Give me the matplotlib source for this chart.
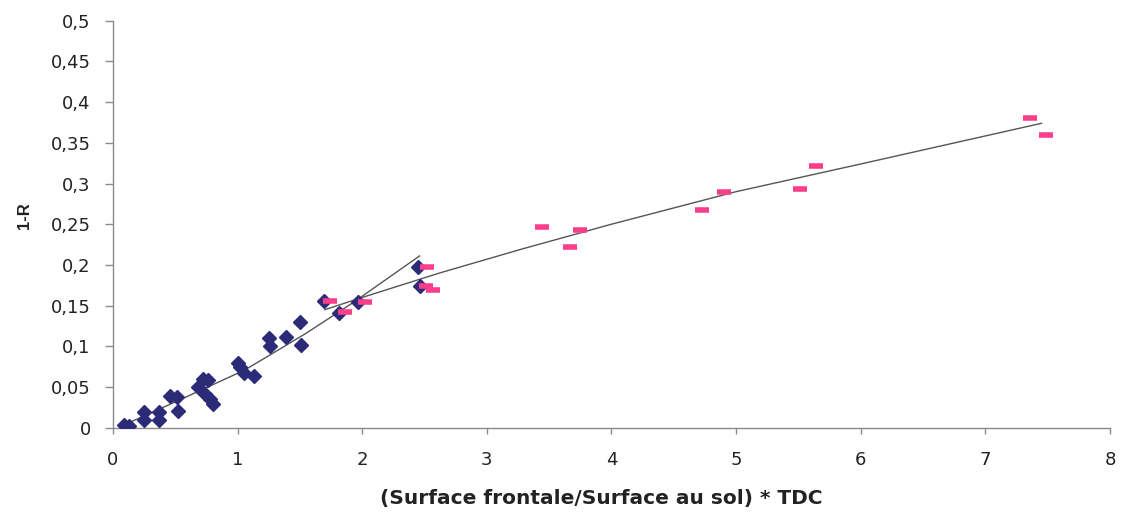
import numpy as np
import matplotlib
matplotlib.use('Agg')
import matplotlib.pyplot as plt
from matplotlib.ticker import FuncFormatter, MultipleLocator

plt.rcParams['font.family'] = ['DejaVu Sans']

# diamonds (navy series)
diam_x = [0.09, 0.13, 0.25, 0.25, 0.37, 0.37, 0.46, 0.51, 0.52, 0.68, 0.72, 0.76,
          0.74, 0.78, 0.80, 1.00, 1.02, 1.05, 1.13, 1.25, 1.26, 1.39, 1.50, 1.51,
          1.69, 1.81, 1.97, 2.45, 2.46]
diam_y = [0.003, 0.002, 0.019, 0.010, 0.019, 0.010, 0.039, 0.038, 0.021, 0.050, 0.060, 0.059,
          0.041, 0.035, 0.029, 0.080, 0.075, 0.067, 0.064, 0.110, 0.100, 0.111, 0.130, 0.102,
          0.156, 0.141, 0.155, 0.198, 0.174]

# dashes (pink series)
pink_x = [1.74, 1.86, 2.02, 2.52, 2.51, 2.57, 3.44, 3.67, 3.75, 4.73, 4.90, 5.51, 5.64, 7.36, 7.49]
pink_y = [0.156, 0.142, 0.154, 0.198, 0.174, 0.169, 0.246, 0.222, 0.243, 0.267, 0.289, 0.293, 0.322, 0.380, 0.360]

# trend lines
trend1_x = [0.07, 0.52, 1.06, 1.55, 1.93, 2.46]
trend1_y = [0.002, 0.033, 0.071, 0.116, 0.154, 0.211]
trend2_x = [1.70, 2.00, 2.62, 3.27, 4.00, 5.00, 6.00, 7.45]
trend2_y = [0.145, 0.160, 0.190, 0.219, 0.250, 0.290, 0.324, 0.374]

fig = plt.figure(figsize=(11.25, 5.19), dpi=100)
ax = fig.add_axes([0.1004, 0.176, 0.8863, 0.784])

ax.plot(trend1_x, trend1_y, color='#555555', lw=1.0, zorder=2)
ax.plot(trend2_x, trend2_y, color='#555555', lw=1.0, zorder=2)
ax.plot(diam_x, diam_y, ls='none', marker='D', ms=7.5, color='#2b2b78', zorder=3)
ax.plot(pink_x, pink_y, ls='none', marker='_', ms=10, mew=4, color='#ff3d8b', zorder=4)

ax.set_xlim(0, 8)
ax.set_ylim(0, 0.5)
ax.xaxis.set_major_locator(MultipleLocator(1))
ax.yaxis.set_major_locator(MultipleLocator(0.05))
ax.yaxis.set_major_formatter(FuncFormatter(lambda v, p: f"{v:.2f}".rstrip('0').rstrip('.').replace('.', ',')))

for s in ['top', 'right']:
    ax.spines[s].set_visible(False)
for s in ['left', 'bottom']:
    ax.spines[s].set_color('#8a8a8a')
    ax.spines[s].set_linewidth(1.0)
ax.tick_params(direction='out', width=1, color='#8a8a8a', labelsize=13, labelcolor='#222222')
ax.tick_params(axis='y', length=6, pad=10)
ax.tick_params(axis='x', length=4, pad=13)

ax.set_xlabel('(Surface frontale/Surface au sol) * TDC', fontsize=14.5, fontweight='bold',
              color='#222222')
ax.xaxis.set_label_coords(0.49, -0.150)
ax.set_ylabel('1-R', fontsize=12, fontweight='bold', color='#222222',
              family=['Liberation Sans', 'DejaVu Sans'])
ax.yaxis.set_label_coords(-0.081, 0.52)

fig.savefig('out.png', dpi=100)
